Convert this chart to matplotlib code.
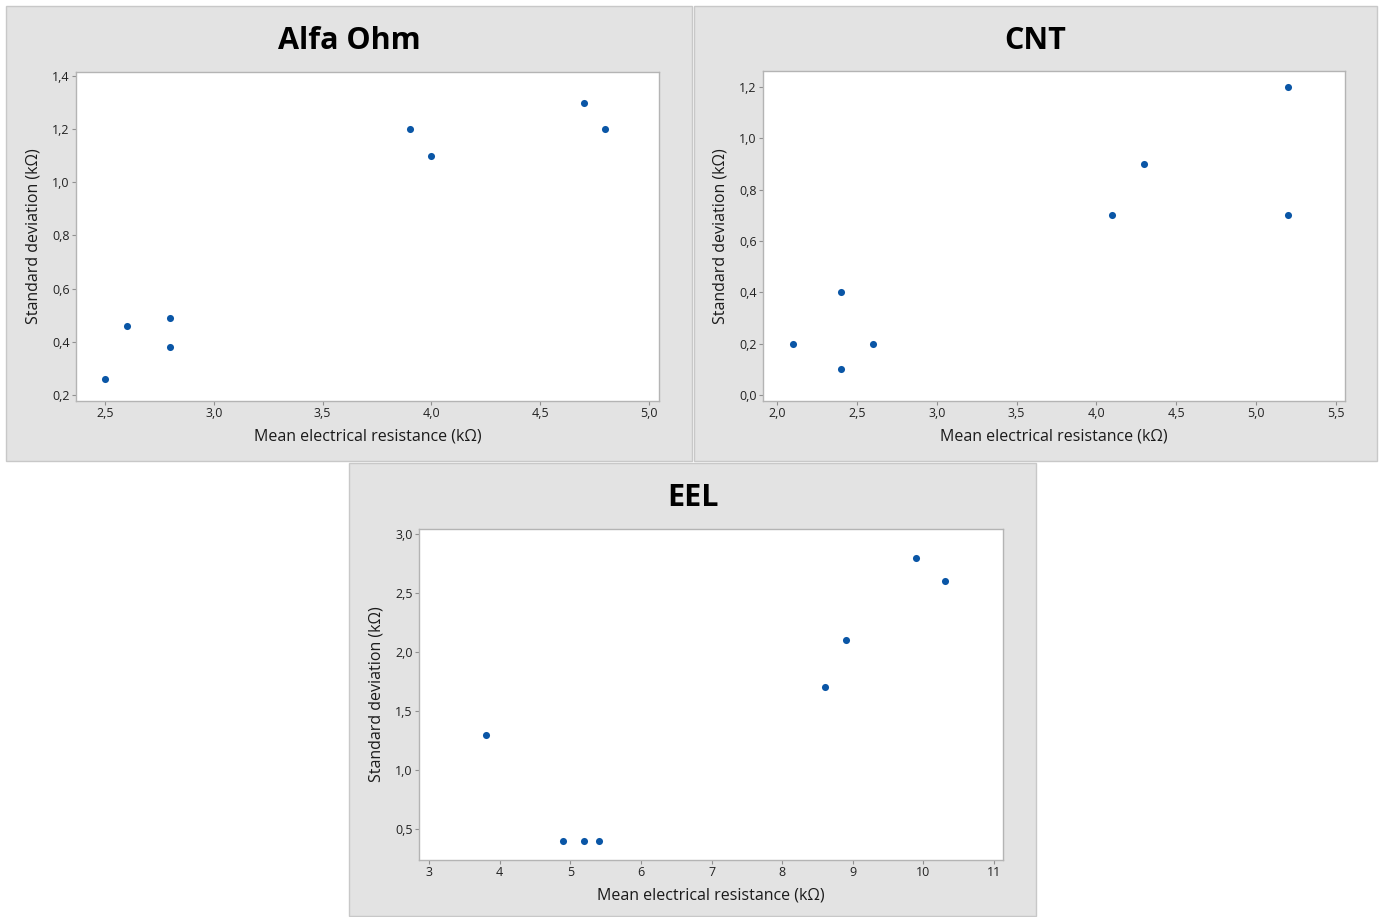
import matplotlib
matplotlib.use("Agg")
import matplotlib.pyplot as plt
from matplotlib.patches import Rectangle
from matplotlib.ticker import FuncFormatter

# data
alfa_x = [2.5, 2.6, 2.8, 2.8, 3.9, 4.0, 4.7, 4.8]
alfa_y = [0.26, 0.46, 0.49, 0.38, 1.2, 1.1, 1.3, 1.2]
cnt_x = [2.1, 2.4, 2.4, 2.6, 4.1, 4.3, 5.2, 5.2]
cnt_y = [0.2, 0.4, 0.1, 0.2, 0.7, 0.9, 1.2, 0.7]
eel_x = [3.8, 4.9, 5.2, 5.4, 8.6, 8.9, 9.9, 10.3]
eel_y = [1.3, 0.4, 0.4, 0.4, 1.7, 2.1, 2.8, 2.6]

titles = ["Alfa Ohm", "CNT", "EEL"]
xlabel = "Mean electrical resistance (kΩ)"
ylabel = "Standard deviation (kΩ)"

W, H = 1383, 917
plt.rcParams['font.family'] = ['Open Sans', 'DejaVu Sans']

fig = plt.figure(figsize=(W / 100, H / 100), dpi=100)
fig.patch.set_facecolor('white')


def px_rect(x0, y0, x1, y1):
    return [x0 / W, 1 - y1 / H, (x1 - x0) / W, (y1 - y0) / H]


def comma1(v, pos):
    return f"{v:.1f}".replace('.', ',')


def comma0(v, pos):
    return f"{v:.0f}"


panels = [
    dict(box=(6, 6, 692, 461), ax=(76, 72, 659, 401), x=alfa_x, y=alfa_y,
         xlim=(2.367, 5.046), ylim=(0.177, 1.415),
         xt=[2.5, 3.0, 3.5, 4.0, 4.5, 5.0], yt=[0.2, 0.4, 0.6, 0.8, 1.0, 1.2, 1.4],
         fx=comma1, title_y=41),
    dict(box=(694, 6, 1377, 461), ax=(763, 71, 1345, 401), x=cnt_x, y=cnt_y,
         xlim=(1.912, 5.556), ylim=(-0.023, 1.262),
         xt=[2.0, 2.5, 3.0, 3.5, 4.0, 4.5, 5.0, 5.5], yt=[0.0, 0.2, 0.4, 0.6, 0.8, 1.0, 1.2],
         fx=comma1, title_y=41),
    dict(box=(349, 463, 1036, 916), ax=(419, 529, 1003, 860), x=eel_x, y=eel_y,
         xlim=(2.858, 11.127), ylim=(0.237, 3.042),
         xt=list(range(3, 12)), yt=[0.5, 1.0, 1.5, 2.0, 2.5, 3.0],
         fx=comma0, title_y=498),
]

for p, title in zip(panels, titles):
    bx0, by0, bx1, by1 = p['box']
    fig.patches.append(Rectangle((bx0 / W, 1 - by1 / H), (bx1 - bx0) / W, (by1 - by0) / H,
                                 transform=fig.transFigure, facecolor='#e3e3e3',
                                 edgecolor='#c8c8c8', linewidth=1, zorder=-10))
    ax = fig.add_axes(px_rect(*p['ax']))
    ax.set_zorder(1)
    ax.set_facecolor('white')
    ax.scatter(p['x'], p['y'], s=26, color='#0a56a6', zorder=3, linewidths=0)
    ax.set_xlim(*p['xlim'])
    ax.set_ylim(*p['ylim'])
    ax.set_xticks(p['xt'])
    ax.set_yticks(p['yt'])
    ax.xaxis.set_major_formatter(FuncFormatter(p['fx']))
    ax.yaxis.set_major_formatter(FuncFormatter(comma1))
    ax.tick_params(direction='out', length=3, width=0.8, color='#909090',
                   labelsize=9, labelcolor='#222222', pad=1.5)
    for s in ax.spines.values():
        s.set_color('#b4b4b4')
        s.set_linewidth(1)
    ax.set_xlabel(xlabel, fontsize=11.5, color='#1a1a1a', labelpad=6)
    ax.set_ylabel(ylabel, fontsize=11.5, color='#1a1a1a', labelpad=8)
    cx = (bx0 + bx1) / 2 / W
    fig.text(cx, 1 - p['title_y'] / H, title, ha='center', va='center',
             fontsize=22, fontweight='bold', color='black')

fig.savefig('out.png', dpi=100)
